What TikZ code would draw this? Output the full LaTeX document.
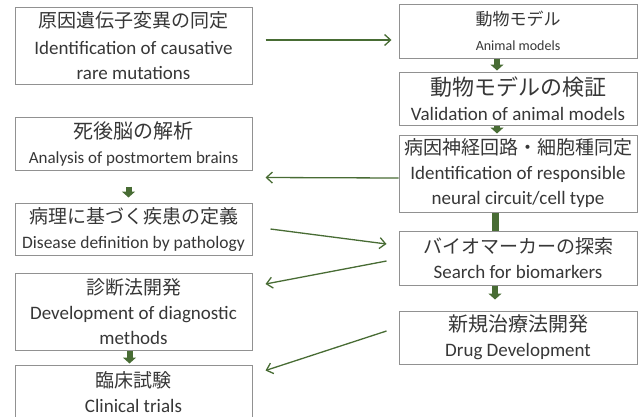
\documentclass[tikz,border=0pt]{standalone}
\usepackage{fontspec}
\setmainfont{Carlito}
\newfontfamily\jp{Noto Sans CJK JP}
\usetikzlibrary{arrows.meta}
\definecolor{arrgreen}{RGB}{72,108,52}
\definecolor{boxgray}{RGB}{145,145,145}
\definecolor{txtgray}{RGB}{55,55,55}
\newcommand{\jl}[2][19]{{\jp\fontsize{#1}{22}\selectfont #2}}
\tikzstyle{box}=[draw=boxgray,line width=1pt,fill=white,text=txtgray,align=center,inner sep=0pt,
  minimum width=237pt,font=\fontsize{19}{25}\selectfont]
\tikzstyle{flow}=[draw=arrgreen,line width=1.3pt,-{Straight Barb[length=6pt,width=11pt]}]
\tikzstyle{down}=[draw=arrgreen,line width=6pt,-{Triangle[length=6pt,width=13pt]}]

\begin{document}
\begin{tikzpicture}[x=1pt,y=-1pt]
\useasboundingbox (0,0) rectangle (644,416);
% left column
\node[box,minimum height=77pt] (b1) at (133.5,45.5) {\jl{原因遺伝子変異の同定}\\[2pt]Identification of causative\\rare mutations};
\node[box,minimum height=53pt,font=\fontsize{17}{25}\selectfont] (b2) at (133.5,143.5) {\jl[20]{死後脳の解析}\\Analysis of postmortem brains};
\node[box,minimum height=52pt,font=\fontsize{17.5}{25}\selectfont] (b3) at (133.5,229) {\jl{病理に基づく疾患の定義}\\Disease definition by pathology};
\node[box,minimum height=77pt] (b4) at (133.5,311.5) {\jl{診断法開発}\\Development of diagnostic\\methods};
\node[box,minimum height=54pt] (b5) at (133.5,392) {\jl{臨床試験}\\Clinical trials};
% right column
\node[box,minimum width=238pt,minimum height=54pt,font=\fontsize{14}{25}\selectfont] (r1) at (518,31) {\jl[17]{動物モデル}\\Animal models};
\node[box,minimum width=238pt,minimum height=53pt] (r2) at (518,98.5) {\jl[22]{動物モデルの検証}\\Validation of animal models};
\node[box,minimum width=238pt,minimum height=77pt] (r3) at (518,173.5) {\jl{病因神経回路・細胞種同定}\\Identification of responsible\\neural circuit/cell type};
\node[box,minimum width=238pt,minimum height=54pt] (r4) at (518,258) {\jl{バイオマーカーの探索}\\Search for biomarkers};
\node[box,minimum width=238pt,minimum height=53pt] (r5) at (518,337.5) {\jl[20]{新規治療法開発}\\Drug Development};
% cross links
\draw[flow] ([xshift=13pt,yshift=5.5pt]b1.east) -- ([xshift=-7pt,yshift=-9pt]r1.west);
\draw[flow] ([yshift=-4.5pt]r3.west) -- ([xshift=13pt,yshift=-7pt]b2.south east);
\draw[flow] ([xshift=18pt]b3.east) -- ([xshift=-12pt,yshift=14pt]r4.west);
\draw[flow] ([xshift=-12pt,yshift=-3pt]r4.west) -- ([xshift=13pt,yshift=27.5pt]b4.east);
\draw[flow] ([xshift=-12pt,yshift=6.5pt]r5.west) -- ([xshift=13pt,yshift=-6pt]b5.north east);
% down arrows
\draw[down] ([xshift=-21pt]r1.south) -- ([xshift=-21pt,yshift=1pt]r2.north);
\draw[down] ([xshift=-21pt]r2.south) -- ([xshift=-21pt,yshift=1pt]r3.north);
\draw[draw=arrgreen,line width=7pt] ([xshift=-23pt]r3.south) -- ([xshift=-23pt]r4.north);
\draw[down] ([xshift=-23pt]r4.south) -- ([xshift=-23pt,yshift=11pt]r5.north);
\draw[down] ([xshift=-5pt,yshift=-16pt]b2.south) -- ([xshift=-5pt,yshift=5pt]b3.north);
\draw[down] ([xshift=-4pt]b4.south) -- ([xshift=-4pt,yshift=1pt]b5.north);
\end{tikzpicture}
\end{document}
